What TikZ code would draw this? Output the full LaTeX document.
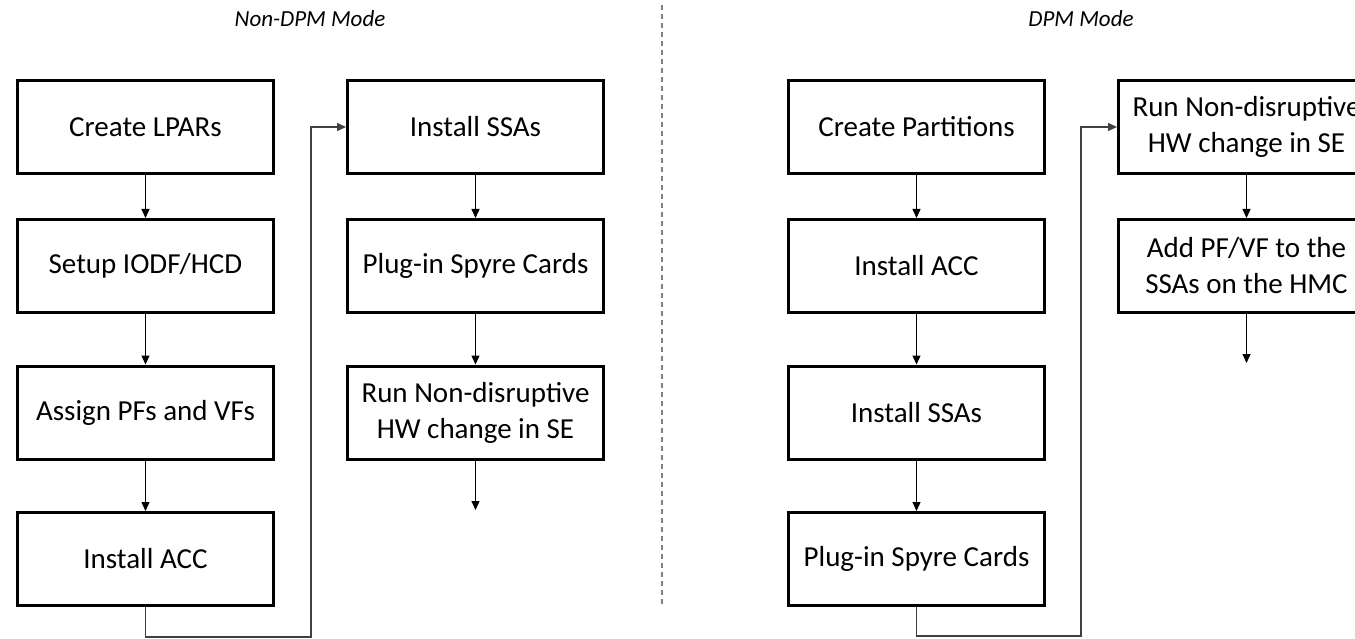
\documentclass[tikz,border=0pt]{standalone}
\usepackage{fontspec}
\setmainfont{Carlito}
\usepackage{tikz}
\usetikzlibrary{arrows.meta, positioning}
\tikzset{>={Triangle[length=9pt,width=8pt]}}
\tikzset{
  stepbox/.style={draw, line width=3pt, fill=white, minimum width=256pt, minimum height=93pt,
    align=center, inner sep=0pt, font=\fontsize{29}{36}\selectfont},
  modetitle/.style={font=\fontsize{23}{27}\selectfont\itshape},
  flow/.style={->, line width=1.3pt},
  loopline/.style={->, line width=1.5pt, draw=black!75},
}

\begin{document}
\begin{tikzpicture}[x=1pt, y=-1pt]
        \useasboundingbox (0,0) rectangle (1355,639);
        \clip (0,0) rectangle (1355,639);

        \node[modetitle] (tnon) at (310,19) {Non-DPM Mode};
        \node[modetitle] (tdpm) at (1081,19) {DPM Mode};
        \draw[gray, line width=1.2pt, dash pattern=on 5pt off 4pt] (662,5) -- (662,607);

        % non-DPM mode
        \node[stepbox] (lpar) at (145.5,127) {Create LPARs};
        \node[stepbox] (iodf) at (145.5,266) {Setup IODF/HCD};
        \node[stepbox] (pfvf) at (145.5,412.5) {Assign PFs and VFs};
        \node[stepbox] (acc)  at (145.5,559) {Install ACC};
        \node[stepbox] (ssa)  at (475.5,127) {Install SSAs};
        \node[stepbox] (spyre) at (475.5,266) {Plug-in Spyre Cards};
        \node[stepbox] (ndhw) at (475.5,412.5) {Run Non-disruptive\\HW change in SE};
        \coordinate (endL) at (475.5,510);
        \coordinate (bendL) at (311,637);

        \draw[flow] (lpar) -- (iodf);
        \draw[flow] (iodf) -- (pfvf);
        \draw[flow] (pfvf) -- (acc);
        \draw[loopline] (acc.south) |- (bendL) |- (ssa.west);
        \draw[flow] (ssa) -- (spyre);
        \draw[flow] (spyre) -- (ndhw);
        \draw[flow] (ndhw) -- (endL);

        % DPM mode
        \node[stepbox] (part)  at (916.5,127) {Create Partitions};
        \node[stepbox] (acc2)  at (916.5,266) {Install ACC};
        \node[stepbox] (ssa2)  at (916.5,412.5) {Install SSAs};
        \node[stepbox] (spyre2) at (916.5,559) {Plug-in Spyre Cards};
        \node[stepbox] (ndhw2) at (1246.5,127) {Run Non-disruptive\\HW change in SE};
        \node[stepbox] (hmc)   at (1246.5,266) {Add PF/VF to the\\SSAs on the HMC};
        \coordinate (endR) at (1246.5,363);
        \coordinate (bendR) at (1081,636);

        \draw[flow] (part) -- (acc2);
        \draw[flow] (acc2) -- (ssa2);
        \draw[flow] (ssa2) -- (spyre2);
        \draw[loopline] (spyre2.south) |- (bendR) |- (ndhw2.west);
        \draw[flow] (ndhw2) -- (hmc);
        \draw[flow] (hmc) -- (endR);
\end{tikzpicture}
\end{document}
